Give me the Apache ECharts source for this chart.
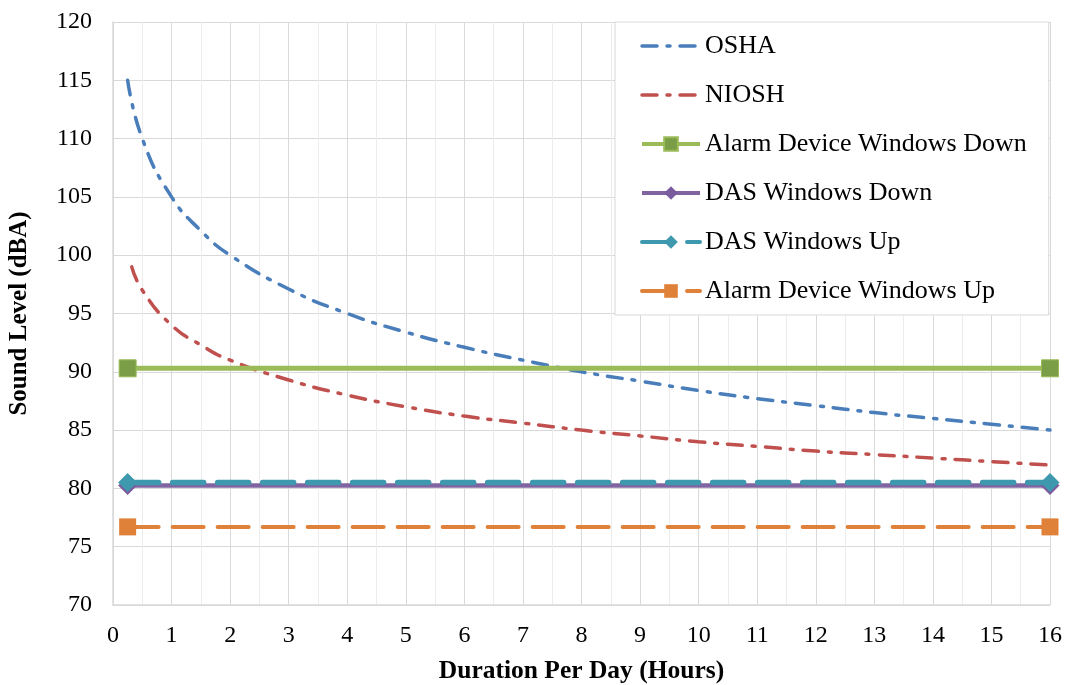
<!DOCTYPE html>
<html><head><meta charset="utf-8">
<script src="https://cdn.jsdelivr.net/npm/echarts@6/dist/echarts.min.js"></script>
<style>html,body{margin:0;padding:0;background:#fff}#c{width:1070px;height:685px}</style>
</head><body><div id="c"></div>
<script>
const oshaX = [0.25, 0.5, 1, 1.5, 2, 3, 4, 5, 6, 7, 8, 9, 10, 11, 12, 13, 14, 15, 16];
const oshaY = [115, 110, 105, 102.1, 100, 97.1, 95, 93.4, 92.1, 91, 90, 89.2, 88.4, 87.7, 87.1, 86.5, 86, 85.5, 85];
const nioshX = [0.32, 0.5, 1, 1.5, 2, 3, 4, 5, 6, 7, 8, 9, 10, 11, 12, 13, 14, 15, 16];
const nioshY = [99, 97, 94, 92.3, 91, 89.3, 88, 87, 86.2, 85.6, 85, 84.5, 84, 83.6, 83.2, 82.9, 82.6, 82.3, 82];
const endX = [0.25, 16];
const alarmDown = [90.3, 90.3];
const dasDown = [80.25, 80.25];
const dasUp = [80.5, 80.5];
const alarmUp = [76.7, 76.7];
const xTicks = [0,1,2,3,4,5,6,7,8,9,10,11,12,13,14,15,16];
const yTicks = [70,75,80,85,90,95,100,105,110,115,120];

const pair = (xs, ys) => xs.map((x, i) => [x, ys[i]]);
const font = 'Liberation Serif';
const chart = echarts.init(document.getElementById('c'));
chart.setOption({
  animation: false,
  backgroundColor: '#fff',
  grid: { left: 113, right: 20, top: 22, bottom: 80, outerBoundsMode: 'none', containLabel: false },
  xAxis: {
    type: 'value', min: xTicks[0], max: xTicks[xTicks.length - 1], interval: 1,
    name: 'Duration Per Day (Hours)', nameLocation: 'middle', nameGap: 53,
    nameTextStyle: { fontFamily: font, fontSize: 25.5, fontWeight: 'bold', color: '#000' },
    axisLine: { lineStyle: { color: '#d9d9d9', width: 1.5 } },
    axisTick: { show: false },
    axisLabel: { fontFamily: font, fontSize: 24, color: '#000', margin: 19 },
    splitLine: { show: true, lineStyle: { color: '#d9d9d9', width: 1 } },
    minorTick: { show: false, splitNumber: 2 },
    minorSplitLine: { show: true, lineStyle: { color: '#ececec', width: 1 } }
  },
  yAxis: {
    type: 'value', min: yTicks[0], max: yTicks[yTicks.length - 1], interval: 5,
    name: 'Sound Level (dBA)', nameLocation: 'middle', nameGap: 81, nameRotate: 90,
    nameTextStyle: { fontFamily: font, fontSize: 25, fontWeight: 'bold', color: '#000' },
    axisLine: { show: true, lineStyle: { color: '#d9d9d9', width: 1.5 } },
    axisTick: { show: false },
    axisLabel: { fontFamily: font, fontSize: 24, color: '#000', margin: 21 },
    splitLine: { show: true, lineStyle: { color: '#d9d9d9', width: 1 } }
  },
  legend: {
    orient: 'vertical', left: 615, top: 22,
    padding: [11, 22, 11, 25],
    itemWidth: 58, itemHeight: 17, itemGap: 23,
    backgroundColor: '#fff', borderColor: '#d9d9d9', borderWidth: 1,
    textStyle: { fontFamily: font, fontSize: 26, lineHeight: 26, color: '#000' },
    data: [
      { name: 'OSHA', itemStyle: { opacity: 0 }, lineStyle: { width: 3.5 } },
      { name: 'NIOSH', itemStyle: { opacity: 0 }, lineStyle: { width: 3.5 } },
      { name: 'Alarm Device Windows Down', lineStyle: { width: 4 } },
      { name: 'DAS Windows Down', lineStyle: { width: 4 } },
      { name: 'DAS Windows Up', lineStyle: { width: 4 } },
      { name: 'Alarm Device Windows Up', lineStyle: { width: 4 } }
    ]
  },
  series: [
    { name: 'OSHA', type: 'line', smooth: true, symbol: 'none', data: pair(oshaX, oshaY),
      lineStyle: { color: '#4A7EBB', width: 3.5, type: [15, 10, 3, 10], cap: 'round' }, itemStyle: { color: '#4A7EBB' }, z: 3 },
    { name: 'NIOSH', type: 'line', smooth: true, symbol: 'none', data: pair(nioshX, nioshY),
      lineStyle: { color: '#C0504D', width: 3.5, type: [15, 10, 3, 10], cap: 'round' }, itemStyle: { color: '#C0504D' }, z: 3 },
    { name: 'Alarm Device Windows Down', type: 'line', symbol: 'rect', symbolSize: 17, data: pair(endX, alarmDown),
      lineStyle: { color: '#9BBB59', width: 5 }, itemStyle: { color: '#7A9E48', borderColor: '#9BBB59', borderWidth: 1 }, z: 4 },
    { name: 'DAS Windows Down', type: 'line', symbol: 'diamond', symbolSize: 19, data: pair(endX, dasDown),
      lineStyle: { color: '#8064A2', width: 4.5 }, itemStyle: { color: '#7A5C9E' }, z: 4 },
    { name: 'DAS Windows Up', type: 'line', symbol: 'diamond', symbolSize: 19, data: pair(endX, dasUp),
      lineStyle: { color: '#3E98AE', width: 5.5, type: [31, 14], cap: 'round' }, itemStyle: { color: '#3E98AE' }, z: 5 },
    { name: 'Alarm Device Windows Up', type: 'line', symbol: 'rect', symbolSize: 17, data: pair(endX, alarmUp),
      lineStyle: { color: '#E0813A', width: 4, type: [31, 14], cap: 'round' }, itemStyle: { color: '#E0813A' }, z: 4 }
  ]
});
</script></body></html>
